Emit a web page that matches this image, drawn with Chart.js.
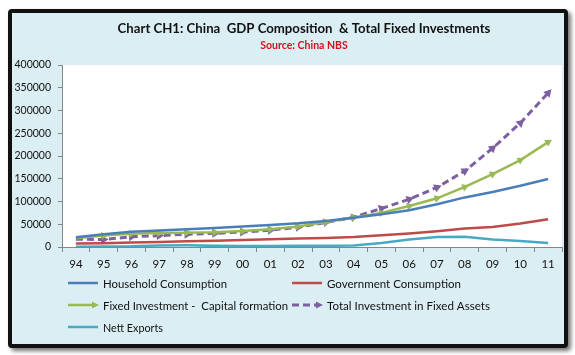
<!DOCTYPE html>
<html>
<head>
<meta charset="utf-8">
<script src="https://cdn.jsdelivr.net/npm/chart.js@4"></script>
<style>
html,body{margin:0;padding:0;background:#ffffff;}
body{width:575px;height:355px;position:relative;overflow:hidden;}
#frame{position:absolute;left:8px;top:9px;width:552px;height:331px;border:4px solid #111;border-radius:4px;background:#dbeef4;box-shadow:3px 3px 4px rgba(0,0,0,0.55);}
#c{position:absolute;left:0;top:0;}
</style>
</head>
<body>
<div id="frame"></div>
<canvas id="c" width="575" height="355"></canvas>
<script>
const categories = ['94','95','96','97','98','99','00','01','02','03','04','05','06','07','08','09','10','11'];
const householdConsumption = [21500,28000,33500,36500,39000,41500,45000,48500,52000,57000,64500,72000,81000,94000,109000,121000,134500,149500];
const governmentConsumption = [7500,8500,10000,11000,12500,13500,15500,17000,18500,20000,22000,25800,29600,34600,40600,44100,51700,60800];
const fixedInvestment = [19000,25000,29000,30500,31500,32500,35000,39000,45000,55000,65000,75000,90000,107000,132000,160000,191000,230500];
const totalFixedAssets = [17000,16500,22500,25000,28000,30000,33000,37000,43500,54000,65500,84700,105000,131000,167000,217000,272500,338500];
const nettExports = [600,1000,1500,3500,3600,2500,2200,2200,3000,2500,3500,8800,16300,22100,22500,16300,13200,8800];
const yTicks = [0,50000,100000,150000,200000,250000,300000,350000,400000];
const titleText = 'Chart CH1: China  GDP Composition  & Total Fixed Investments';
const subtitleText = 'Source: China NBS';

const FONT = 'Lato, "Open Sans", sans-serif';

function arrowRotation(ctx) {
  const chart = ctx.chart, i = ctx.dataIndex, ds = chart.data.datasets[ctx.datasetIndex];
  if (i === 0) return 0;
  const xs = chart.scales.x, ys = chart.scales.y;
  if (!xs || !ys) return 0;
  const x1 = xs.getPixelForValue(i - 1), y1 = ys.getPixelForValue(ds.data[i - 1]);
  const x2 = xs.getPixelForValue(i), y2 = ys.getPixelForValue(ds.data[i]);
  return Math.atan2(y2 - y1, x2 - x1) * 180 / Math.PI + 90;
}

const bgPlugin = {
  id: 'bg',
  beforeDraw(chart) {
    const {ctx, chartArea: a} = chart;
    ctx.save();
    ctx.fillStyle = '#ffffff';
    ctx.fillRect(a.left, a.top, a.right - a.left, a.bottom - a.top);
    ctx.restore();
  },
  afterDraw(chart) {
    const ctx = chart.ctx;
    ctx.save();
    ctx.textAlign = 'center';
    ctx.textBaseline = 'middle';
    ctx.fillStyle = '#111111';
    ctx.font = 'bold 13.2px ' + FONT;
    ctx.fillText(titleText, 304, 29);
    ctx.fillStyle = '#d0121b';
    ctx.font = 'bold 10.5px ' + FONT;
    ctx.fillText(subtitleText, 304, 46);
    // legend
    const items = [
      {ds: 0, x: 68, y: 283, w: 124}, {ds: 1, x: 292, y: 283, w: 134},
      {ds: 2, x: 68, y: 305, w: 185}, {ds: 3, x: 292, y: 305, w: 163},
      {ds: 4, x: 68, y: 327, w: 60}
    ];
    ctx.textAlign = 'left';
    ctx.font = '12px ' + FONT;
    items.forEach(it => {
      const d = chart.data.datasets[it.ds];
      ctx.save();
      ctx.strokeStyle = d.borderColor;
      ctx.lineWidth = d.borderWidth;
      ctx.setLineDash(d.borderDash || []);
      ctx.beginPath();
      ctx.moveTo(it.x, it.y);
      ctx.lineTo(it.x + (d.pointStyle ? 26 : 30), it.y);
      ctx.stroke();
      if (d.pointStyle) {
        ctx.setLineDash([]);
        ctx.fillStyle = d.borderColor;
        ctx.beginPath();
        ctx.moveTo(it.x + 31, it.y);
        ctx.lineTo(it.x + 24, it.y - 3.5);
        ctx.lineTo(it.x + 24, it.y + 3.5);
        ctx.closePath();
        ctx.fill();
      }
      ctx.restore();
      ctx.fillStyle = '#111111';
      const tw = ctx.measureText(d.label).width;
      ctx.fillText(d.label, it.x + 35, it.y + 1, Math.min(tw, it.w));
    });
    ctx.restore();
  }
};

new Chart(document.getElementById('c'), {
  type: 'line',
  data: {
    labels: categories,
    datasets: [
      {label: 'Household Consumption', data: householdConsumption, borderColor: '#4a7ebb', backgroundColor: '#4a7ebb', borderWidth: 2.5, pointRadius: 0},
      {label: 'Government Consumption', data: governmentConsumption, borderColor: '#be4b48', backgroundColor: '#be4b48', borderWidth: 2.5, pointRadius: 0},
      {label: 'Fixed Investment -  Capital formation', data: fixedInvestment, borderColor: '#98b954', backgroundColor: '#98b954', borderWidth: 2.5,
        pointStyle: 'triangle', pointRadius: c => c.dataIndex === 0 ? 0 : 4.5, pointBorderWidth: 0, pointRotation: arrowRotation},
      {label: 'Total Investment in Fixed Assets', data: totalFixedAssets, borderColor: '#7d60a0', backgroundColor: '#7d60a0', borderWidth: 3, borderDash: [7,4],
        pointStyle: 'triangle', pointRadius: c => c.dataIndex === 0 ? 0 : 5, pointBorderWidth: 0, pointRotation: arrowRotation},
      {label: 'Nett Exports', data: nettExports, borderColor: '#46aac5', backgroundColor: '#46aac5', borderWidth: 2.5, pointRadius: 0}
    ]
  },
  options: {
    responsive: false,
    animation: false,
    layout: {padding: {left: 0, right: 13, top: 65, bottom: 83}},
    elements: {line: {tension: 0}, point: {hoverRadius: 0}},
    plugins: {legend: {display: false}, title: {display: false}, tooltip: {enabled: false}},
    scales: {
      x: {
        offset: true,
        grid: {offset: true, drawOnChartArea: false, drawTicks: true, tickLength: 5, color: '#868686'},
        border: {color: '#868686', width: 1},
        ticks: {color: '#111111', font: {family: FONT, size: 11.5}, padding: 5, maxRotation: 0, autoSkip: false},
        afterFit(s) { s.height = 25; }
      },
      y: {
        min: 0, max: 400000,
        afterBuildTicks(s) { s.ticks = yTicks.map(v => ({value: v})); },
        grid: {drawOnChartArea: false, drawTicks: true, tickLength: 4, color: '#868686'},
        border: {color: '#868686', width: 1},
        ticks: {color: '#111111', font: {family: FONT, size: 10.5}, padding: 7, callback: v => String(v)},
        afterFit(s) { s.width = 62; }
      }
    }
  },
  plugins: [bgPlugin]
});
</script>
</body>
</html>
